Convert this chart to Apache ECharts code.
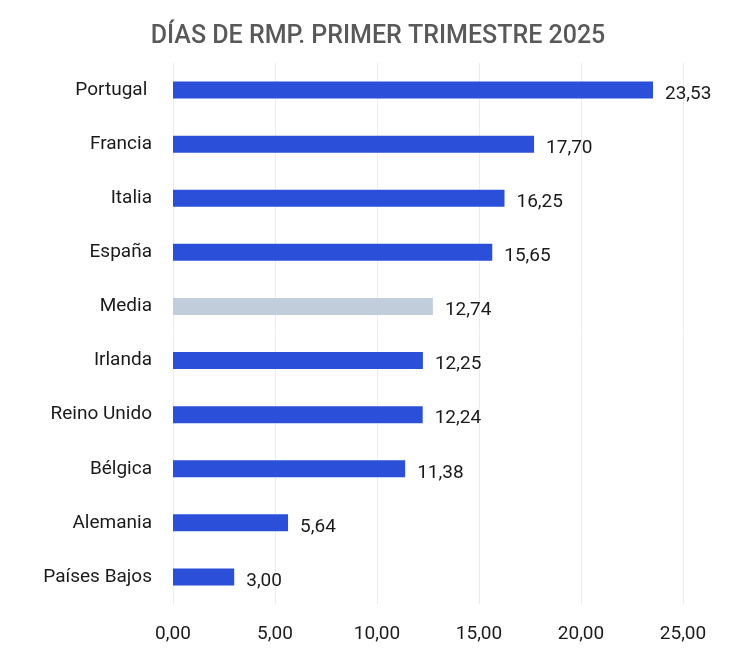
<!DOCTYPE html>
<html>
<head>
<meta charset="utf-8">
<script src="https://cdn.jsdelivr.net/npm/echarts@6/dist/echarts.min.js"></script>
<style>
  html, body { margin: 0; padding: 0; background: #fff; }
  #chart { width: 756px; height: 664px; }
</style>
</head>
<body>
<div id="chart"></div>
<script>
// datos (de abajo a arriba, como los pinta el eje de categorias)
var paises = ['Países Bajos', 'Alemania', 'Bélgica', 'Reino Unido', 'Irlanda', 'Media', 'España', 'Italia', 'Francia', 'Portugal '];
var dias = [3.00, 5.64, 11.38, 12.24, 12.25, 12.74, 15.65, 16.25, 17.70, 23.53];
var colorBarra = '#2b4fd8';
var colorMedia = '#c1cddb';

var fuente = 'Roboto, "Noto Sans", sans-serif';

function coma(v) { return v.toFixed(2).replace('.', ','); }

var chart = echarts.init(document.getElementById('chart'));
var option = {
    backgroundColor: '#fff',
    animation: false,
    title: {
        text: 'DÍAS DE RMP. PRIMER TRIMESTRE 2025',
        left: 'center',
        top: 19,
        textStyle: {
            color: '#595959',
            fontFamily: fuente,
            fontSize: 25,
            fontWeight: 500
        }
    },
    grid: {
        left: 173,
        right: 73,
        top: 63,
        bottom: 60
    },
    xAxis: {
        type: 'value',
        min: 0,
        max: 25,
        interval: 5,
        axisLine: { show: false },
        axisTick: { show: false },
        splitLine: { lineStyle: { color: '#ececec', width: 1 } },
        axisLabel: {
            color: '#1a1a1a',
            fontFamily: fuente,
            fontSize: 19,
            margin: 21,
            formatter: coma
        }
    },
    yAxis: {
        type: 'category',
        data: paises,
        axisLine: { show: false },
        axisTick: { show: false },
        axisLabel: {
            color: '#1a1a1a',
            fontFamily: fuente,
            fontSize: 19,
            margin: 21,
            padding: [4, 0, 0, 0]
        }
    },
    series: [{
        type: 'bar',
        barWidth: 17,
        data: dias.map(function (v, i) {
            return {
                value: v,
                itemStyle: { color: paises[i] === 'Media' ? colorMedia : colorBarra }
            };
        }),
        label: {
            show: true,
            position: 'right',
            distance: 12,
            offset: [0, 4],
            color: '#1a1a1a',
            fontFamily: fuente,
            fontSize: 19,
            formatter: function (p) { return coma(p.value); }
        }
    }]
};
chart.setOption(option);
</script>
</body>
</html>
